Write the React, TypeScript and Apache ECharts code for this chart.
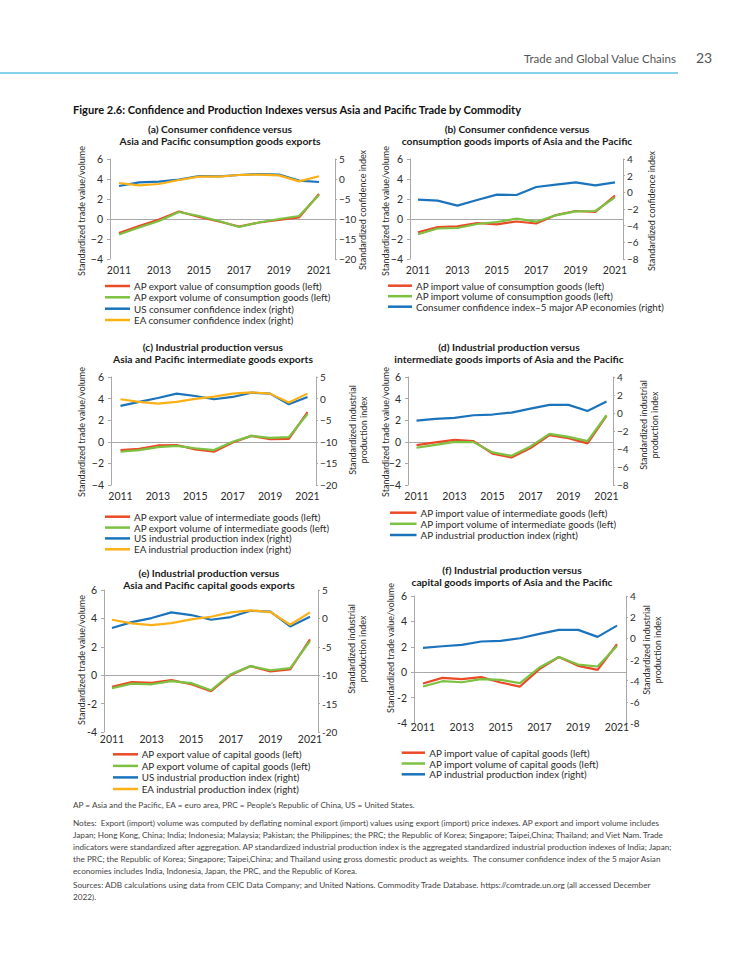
import React, { useEffect, useRef } from "react";
import * as echarts from "echarts";

const FONT = 'Lato, "Open Sans", "DejaVu Sans", sans-serif';
const RED = "#ea4a26";
const GREEN = "#7cc142";
const BLUE = "#1b74bb";
const ORANGE = "#fbb116";
const AXIS = "#a9a9a9";
const TXT = "#2b2b2b";

const years = [2011, 2012, 2013, 2014, 2015, 2016, 2017, 2018, 2019, 2020, 2021];
const xTickYears = [2011, 2013, 2015, 2017, 2019, 2021];

// (a)
const aExportValue = [-1.4, -0.7, -0.05, 0.75, 0.2, -0.25, -0.75, -0.35, -0.1, 0.15, 2.5];
const aExportVolume = [-1.55, -0.85, -0.2, 0.7, 0.3, -0.2, -0.8, -0.35, 0.0, 0.3, 2.4];
const aUSConfidence = [-1.75, -0.85, -0.65, -0.15, 0.75, 0.65, 1.0, 1.25, 1.1, -0.4, -0.75];
const aEAConfidence = [-1.0, -1.6, -1.25, -0.25, 0.6, 0.6, 1.0, 1.1, 0.9, -0.6, 0.7];

// (b)
const bImportValue = [-1.33, -0.8, -0.73, -0.4, -0.53, -0.25, -0.45, 0.4, 0.8, 0.7, 2.33];
const bImportVolume = [-1.53, -0.95, -0.9, -0.5, -0.3, 0.03, -0.27, 0.37, 0.77, 0.8, 2.17];
const bConfidence5 = [-0.88, -1.0, -1.6, -0.92, -0.28, -0.32, 0.64, 0.92, 1.2, 0.84, 1.2];

// (c)
const cExportValue = [-0.77, -0.65, -0.34, -0.3, -0.7, -0.92, -0.06, 0.55, 0.25, 0.28, 2.74];
const cExportVolume = [-0.92, -0.77, -0.5, -0.37, -0.6, -0.77, 0.0, 0.55, 0.37, 0.43, 2.58];
const cUSIndustrial = [-1.7, -0.77, 0.15, 1.15, 0.6, -0.15, 0.38, 1.38, 1.15, -1.3, 0.38];
const cEAIndustrial = [-0.15, -0.77, -1.15, -0.77, -0.08, 0.46, 1.15, 1.46, 1.15, -0.92, 1.15];

// (d)
const dImportValue = [-0.3, -0.06, 0.18, 0.06, -1.1, -1.45, -0.58, 0.62, 0.34, -0.15, 2.4];
const dImportVolume = [-0.55, -0.28, 0.0, -0.03, -0.98, -1.3, -0.43, 0.74, 0.46, 0.06, 2.46];
const dAPIndustrial = [-0.84, -0.65, -0.54, -0.25, -0.17, 0.05, 0.49, 0.9, 0.9, 0.23, 1.27];

// (e)
const eExportValue = [-0.82, -0.49, -0.54, -0.35, -0.64, -1.13, 0.02, 0.64, 0.26, 0.4, 2.52];
const eExportVolume = [-0.92, -0.59, -0.64, -0.42, -0.56, -1.06, 0.07, 0.64, 0.35, 0.5, 2.4];
const eUSIndustrial = [-1.7, -0.65, 0.06, 1.06, 0.59, -0.24, 0.24, 1.35, 1.18, -1.41, 0.29];
const eEAIndustrial = [-0.24, -0.88, -1.18, -0.82, -0.18, 0.29, 1.06, 1.41, 1.12, -1.12, 1.06];

// (f)
const fImportValue = [-0.89, -0.45, -0.55, -0.39, -0.81, -1.13, 0.24, 1.2, 0.5, 0.18, 2.2];
const fImportVolume = [-1.13, -0.71, -0.79, -0.55, -0.6, -0.86, 0.37, 1.2, 0.6, 0.45, 2.07];
const fAPIndustrial = [-0.9, -0.75, -0.62, -0.3, -0.24, 0.01, 0.42, 0.8, 0.8, 0.14, 1.2];

const leftAxisName = "Standardized trade value/volume";
const confAxisName = "Standardized confidence index";
const ipAxisName = "Standardized industrial\nproduction index";

const figureTitle =
  "Figure 2.6: Confidence and Production Indexes versus Asia and Pacific Trade by Commodity";

const noteLines = [
  "AP = Asia and the Pacific, EA = euro area, PRC = People\u2019s Republic of China, US = United States.",
  "Notes:  Export (import) volume was computed by deflating nominal export (import) values using export (import) price indexes. AP export and import volume includes",
  "Japan; Hong Kong, China; India; Indonesia; Malaysia; Pakistan; the Philippines; the PRC; the Republic of Korea; Singapore; Taipei,China; Thailand; and Viet Nam. Trade",
  "indicators were standardized after aggregation. AP standardized industrial production index is the aggregated standardized industrial production indexes of India; Japan;",
  "the PRC; the Republic of Korea; Singapore; Taipei,China; and Thailand using gross domestic product as weights.  The consumer confidence index of the 5 major Asian",
  "economies includes India, Indonesia, Japan, the PRC, and the Republic of Korea.",
  "Sources: ADB calculations using data from CEIC Data Company; and United Nations. Commodity Trade Database. https://comtrade.un.org (all accessed December",
  "2022).",
];
const noteYs = [805, 823, 835, 847, 859, 871, 885, 897];

type S = { name: string; data: number[]; color: string; right: boolean };
type Panel = {
  title: [string, string];
  titleX: number;
  titleY: [number, number];
  left: number;
  right: number;
  top: number;
  bottom: number;
  p0: number;
  p1: number;
  yL: [number, number, number];
  yR: [number, number, number];
  rightName: string;
  leftNameX: number;
  leftNameY: number;
  rightNameX: number;
  rightNameY: number;
  xMargin: number;
  unicodeMinus: boolean;
  legX0: number;
  legX1: number;
  legTX: number;
  legY: number[];
  series: S[];
};

const panels: Panel[] = [
  {
    title: ["(a) Consumer confidence versus", "Asia and Pacific consumption goods exports"],
    titleX: 220, titleY: [129, 141],
    left: 110, right: 335, top: 159, bottom: 259, p0: 119, p1: 319,
    yL: [-4, 6, 2], yR: [-20, 5, 5],
    rightName: confAxisName, leftNameX: 81, leftNameY: 211, rightNameX: 362, rightNameY: 210,
    xMargin: 5, unicodeMinus: true,
    legX0: 105, legX1: 130, legTX: 134, legY: [286, 297.3, 308.7, 320],
    series: [
      { name: "AP export value of consumption goods (left)", data: aExportValue, color: RED, right: false },
      { name: "AP export volume of consumption goods (left)", data: aExportVolume, color: GREEN, right: false },
      { name: "US consumer confidence index (right)", data: aUSConfidence, color: BLUE, right: true },
      { name: "EA consumer confidence index (right)", data: aEAConfidence, color: ORANGE, right: true },
    ],
  },
  {
    title: ["(b) Consumer confidence versus", "consumption goods imports of Asia and the Pacific"],
    titleX: 517, titleY: [129, 141],
    left: 410, right: 623, top: 159, bottom: 259, p0: 418, p1: 615,
    yL: [-4, 6, 2], yR: [-8, 4, 2],
    rightName: confAxisName, leftNameX: 385, leftNameY: 211, rightNameX: 651, rightNameY: 211,
    xMargin: 5, unicodeMinus: true,
    legX0: 388, legX1: 412, legTX: 416, legY: [285.7, 296.2, 306.7],
    series: [
      { name: "AP import value of consumption goods (left)", data: bImportValue, color: RED, right: false },
      { name: "AP import volume of consumption goods (left)", data: bImportVolume, color: GREEN, right: false },
      { name: "Consumer confidence index\u20135 major AP economies (right)", data: bConfidence5, color: BLUE, right: true },
    ],
  },
  {
    title: ["(c) Industrial production versus", "Asia and Pacific intermediate goods exports"],
    titleX: 213, titleY: [347, 359],
    left: 111, right: 316, top: 377, bottom: 485, p0: 120.5, p1: 307.5,
    yL: [-4, 6, 2], yR: [-20, 5, 5],
    rightName: ipAxisName, leftNameX: 81, leftNameY: 432, rightNameX: 358, rightNameY: 430,
    xMargin: 5.5, unicodeMinus: true,
    legX0: 105, legX1: 130, legTX: 134, legY: [516.7, 527.6, 538.4, 549.3],
    series: [
      { name: "AP export value of intermediate goods (left)", data: cExportValue, color: RED, right: false },
      { name: "AP export volume of intermediate goods (left)", data: cExportVolume, color: GREEN, right: false },
      { name: "US industrial production index (right)", data: cUSIndustrial, color: BLUE, right: true },
      { name: "EA industrial production index (right)", data: cEAIndustrial, color: ORANGE, right: true },
    ],
  },
  {
    title: ["(d) Industrial production versus", "intermediate goods imports of Asia and the Pacific"],
    titleX: 509, titleY: [347, 359],
    left: 408, right: 613, top: 377, bottom: 485, p0: 416.5, p1: 606.5,
    yL: [-4, 6, 2], yR: [-8, 4, 2],
    rightName: ipAxisName, leftNameX: 385, leftNameY: 432, rightNameX: 649, rightNameY: 425,
    xMargin: 5, unicodeMinus: true,
    legX0: 390, legX1: 416.5, legTX: 420.5, legY: [512.7, 523.8, 535],
    series: [
      { name: "AP import value of intermediate goods (left)", data: dImportValue, color: RED, right: false },
      { name: "AP import volume of intermediate goods (left)", data: dImportVolume, color: GREEN, right: false },
      { name: "AP industrial production index (right)", data: dAPIndustrial, color: BLUE, right: true },
    ],
  },
  {
    title: ["(e) Industrial production versus", "Asia and Pacific capital goods exports"],
    titleX: 209, titleY: [573, 585],
    left: 104, right: 318, top: 590, bottom: 732, p0: 112, p1: 310,
    yL: [-4, 6, 2], yR: [-20, 5, 5],
    rightName: ipAxisName, leftNameX: 81, leftNameY: 660, rightNameX: 357, rightNameY: 649,
    xMargin: 1, unicodeMinus: false,
    legX0: 113, legX1: 138, legTX: 141.7, legY: [754.3, 765.9, 777.4, 789],
    series: [
      { name: "AP export value of capital goods (left)", data: eExportValue, color: RED, right: false },
      { name: "AP export volume of capital goods (left)", data: eExportVolume, color: GREEN, right: false },
      { name: "US industrial production index (right)", data: eUSIndustrial, color: BLUE, right: true },
      { name: "EA industrial production index (right)", data: eEAIndustrial, color: ORANGE, right: true },
    ],
  },
  {
    title: ["(f) Industrial production versus", "capital goods imports of Asia and the Pacific"],
    titleX: 512, titleY: [570, 582],
    left: 414, right: 626, top: 596, bottom: 723, p0: 423, p1: 617,
    yL: [-4, 6, 2], yR: [-8, 4, 2],
    rightName: ipAxisName, leftNameX: 390, leftNameY: 648, rightNameX: 652, rightNameY: 650,
    xMargin: -2, unicodeMinus: false,
    legX0: 401.7, legX1: 425, legTX: 429.3, legY: [752.7, 763.5, 774.3],
    series: [
      { name: "AP import value of capital goods (left)", data: fImportValue, color: RED, right: false },
      { name: "AP import volume of capital goods (left)", data: fImportVolume, color: GREEN, right: false },
      { name: "AP industrial production index (right)", data: fAPIndustrial, color: BLUE, right: true },
    ],
  },
];

function buildOption() {
  const grid: any[] = [];
  const xAxis: any[] = [];
  const yAxis: any[] = [];
  const series: any[] = [];
  const graphic: any[] = [];
  const tickFont = { fontFamily: FONT, fontSize: 10, color: TXT };

  panels.forEach((p, i) => {
    grid.push({ left: p.left, top: p.top, width: p.right - p.left, height: p.bottom - p.top });
    const ppy = (p.p1 - p.p0) / 10;
    const xmin = 2011 - (p.p0 - p.left) / ppy;
    const xmax = 2021 + (p.right - p.p1) / ppy;
    const fmtY = (v: number) => {
      const s = String(v);
      return p.unicodeMinus ? s.replace("-", "\u2212") : s;
    };
    xAxis.push({
      type: "value", gridIndex: i, min: xmin, max: xmax, position: "bottom",
      axisLine: { show: false, onZero: false },
      axisTick: { show: false },
      splitLine: { show: false },
      axisLabel: { ...tickFont, fontSize: 10.5, customValues: xTickYears, formatter: (v: number) => String(v), margin: p.xMargin },
    });
    xAxis.push({
      type: "value", gridIndex: i, min: xmin, max: xmax, position: "top",
      axisLine: { show: true, onZero: true, onZeroAxisIndex: 2 * i, lineStyle: { color: AXIS, width: 1 } },
      axisTick: { show: false },
      axisLabel: { show: false },
      splitLine: { show: false },
    });
    const yCommon = {
      type: "value", gridIndex: i,
      axisLine: { show: true, onZero: false, lineStyle: { color: AXIS, width: 1 } },
      axisTick: { show: true, length: 3, lineStyle: { color: AXIS } },
      splitLine: { show: false },
    };
    yAxis.push({
      ...yCommon, position: "left", min: p.yL[0], max: p.yL[1], interval: p.yL[2],
      axisLabel: { ...tickFont, fontSize: 10.5, margin: 7, formatter: fmtY },
    });
    yAxis.push({
      ...yCommon, position: "right", min: p.yR[0], max: p.yR[1], interval: p.yR[2],
      axisTick: { show: true, length: 2, lineStyle: { color: AXIS } },
      axisLabel: { ...tickFont, margin: 4, formatter: fmtY },
    });
    p.series.forEach((s) => {
      series.push({
        type: "line", name: s.name, xAxisIndex: 2 * i, yAxisIndex: s.right ? 2 * i + 1 : 2 * i,
        data: years.map((yr, k) => [yr, s.data[k]]),
        symbol: "none", lineStyle: { color: s.color, width: 2.2 }, itemStyle: { color: s.color },
        emphasis: { disabled: true }, silent: true,
      });
    });

    p.title.forEach((t, k) => {
      graphic.push({
        type: "text", x: p.titleX, y: p.titleY[k],
        style: { text: t, fontFamily: FONT, fontSize: 10.3, fontWeight: "bold", fill: "#1a1a1a", align: "center", verticalAlign: "middle" },
      });
    });
    graphic.push({
      type: "text", x: p.leftNameX, y: p.leftNameY, rotation: Math.PI / 2,
      style: { text: leftAxisName, fontFamily: FONT, fontSize: 9, fill: TXT, align: "center", verticalAlign: "middle" },
    });
    graphic.push({
      type: "text", x: p.rightNameX, y: p.rightNameY, rotation: Math.PI / 2,
      style: { text: p.rightName, fontFamily: FONT, fontSize: 9, lineHeight: 11.5, fill: TXT, align: "center", verticalAlign: "middle" },
    });
    p.series.forEach((s, k) => {
      const y = p.legY[k];
      graphic.push({
        type: "line", shape: { x1: p.legX0, y1: y, x2: p.legX1, y2: y },
        style: { stroke: s.color, lineWidth: 2.5 },
      });
      graphic.push({
        type: "text", x: p.legTX, y,
        style: { text: s.name, fontFamily: FONT, fontSize: 9.8, fill: TXT, align: "left", verticalAlign: "middle" },
      });
    });
  });

  graphic.push({
    type: "text", x: 676, y: 58,
    style: { text: "Trade and Global Value Chains", fontFamily: FONT, fontSize: 11.5, fill: "#555", align: "right", verticalAlign: "middle" },
  });
  graphic.push({
    type: "text", x: 704, y: 57,
    style: { text: "23", fontFamily: FONT, fontSize: 14, fill: "#555", align: "center", verticalAlign: "middle" },
  });
  graphic.push({
    type: "line", shape: { x1: 0, y1: 73, x2: 678, y2: 73 },
    style: { stroke: "#62c3e6", lineWidth: 1.5 },
  });
  graphic.push({
    type: "text", x: 73, y: 109,
    style: { text: figureTitle, fontFamily: FONT, fontSize: 11.1, fontWeight: "bold", fill: "#111", align: "left", verticalAlign: "middle" },
  });
  noteLines.forEach((t, k) => {
    graphic.push({
      type: "text", x: 73, y: noteYs[k],
      style: { text: t, fontFamily: FONT, fontSize: 8.2, fill: "#444", align: "left", verticalAlign: "middle" },
    });
  });

  return {
    animation: false,
    backgroundColor: "#ffffff",
    grid, xAxis, yAxis, series, graphic,
  };
}

export default function App() {
  const ref = useRef<HTMLDivElement>(null);
  useEffect(() => {
    if (!ref.current) return;
    const chart = echarts.init(ref.current, undefined, { renderer: "svg" });
    chart.setOption(buildOption() as any);
    return () => chart.dispose();
  }, []);
  return (
    <div
      ref={ref}
      style={{ position: "absolute", left: 0, top: 0, width: 750, height: 971, background: "#fff" }}
    />
  );
}
